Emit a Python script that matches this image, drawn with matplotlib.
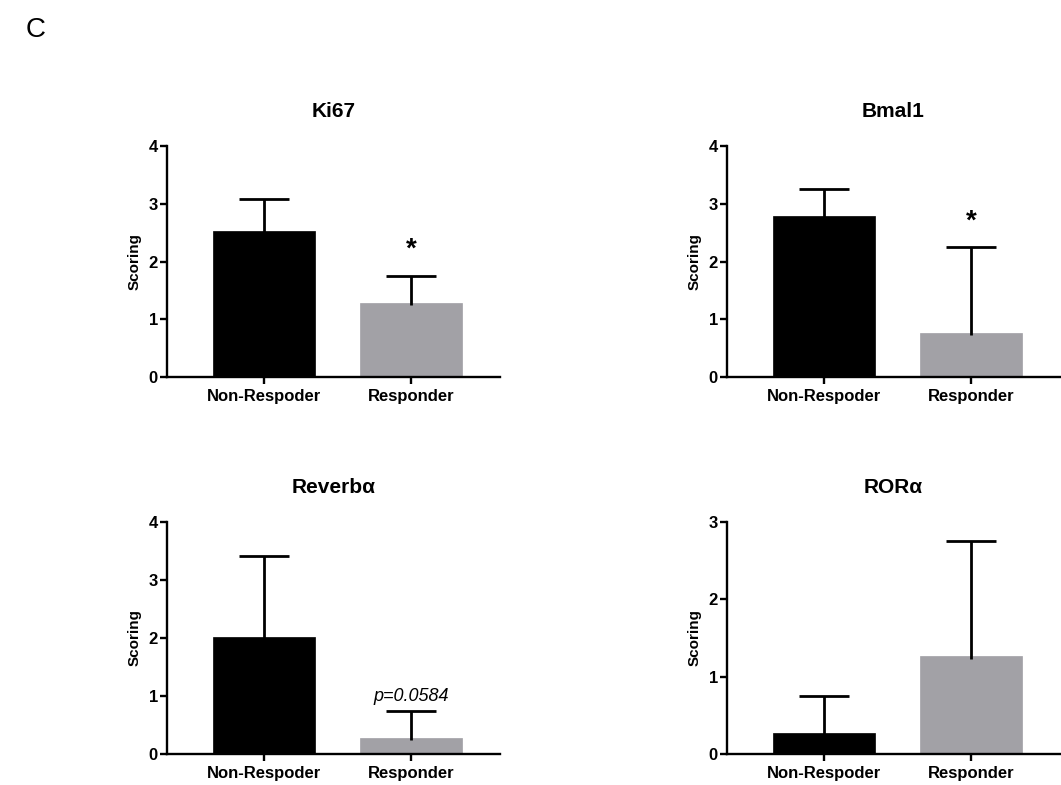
import matplotlib
matplotlib.use("Agg")
import matplotlib.pyplot as plt
import numpy as np

plt.rcParams['font.family'] = ['Liberation Sans', 'DejaVu Sans']

groups = ["Non-Respoder", "Responder"]
colors = ["#000000", "#A2A1A6"]

titles = ["Ki67", "Bmal1", "Reverbα", "RORα"]
means = [[2.53, 1.28], [2.78, 0.77], [2.02, 0.28], [0.27, 1.27]]
errs = [[0.55, 0.47], [0.47, 1.48], [1.39, 0.47], [0.48, 1.48]]
ymax = [4, 4, 4, 3]
annots = ["*", "*", "p=0.0584", ""]
annot_y = [2.2, 2.69, 0.99, None]

W, H = 1061, 785
fig = plt.figure(figsize=(W / 100, H / 100), dpi=100)

# axes boxes in pixels: (left, top, right, bottom)
boxes = [(167, 146, 500, 377), (727, 146, 1060, 377),
         (167, 522, 500, 754), (727, 522, 1060, 754)]

for i, (l, t, r, b) in enumerate(boxes):
    ax = fig.add_axes([l / W, 1 - b / H, (r - l) / W, (b - t) / H])
    x = [0, 1]
    ax.bar(x, means[i], width=0.69, color=colors, edgecolor=colors, linewidth=0.5, zorder=2)
    _, caps, _ = ax.errorbar(x, means[i], yerr=[[0.04, 0.04], errs[i]], fmt='none', ecolor='black',
                             elinewidth=2, capsize=18, capthick=2, zorder=3)
    for c in caps:
        if np.all(np.asarray(c.get_ydata(), float) < np.asarray(means[i])):
            c.set_visible(False)
    ax.set_xlim(-0.655, 1.6)
    ax.set_ylim(0, ymax[i])
    ax.set_yticks(range(0, ymax[i] + 1))
    ax.set_xticks(x)
    ax.set_xticklabels(groups, fontsize=12, fontweight='bold')
    for lab in ax.get_yticklabels():
        lab.set_fontsize(12)
        lab.set_fontweight('bold')
    ax.spines['top'].set_visible(False)
    ax.spines['right'].set_visible(False)
    ax.spines['left'].set_linewidth(1.7)
    ax.spines['bottom'].set_linewidth(1.7)
    ax.spines['left'].set_zorder(4)
    ax.spines['bottom'].set_zorder(4)
    ax.tick_params(axis='both', length=5, width=1.7, pad=1.5)
    ax.tick_params(axis='x', pad=3.5)
    ax.set_ylabel("Scoring", fontsize=11, fontweight='bold', labelpad=5)
    ax.set_title(titles[i], fontsize=15, fontweight='bold', pad=21)
    if annots[i] == "*":
        ax.text(1, annot_y[i], "*", ha='center', va='center', fontsize=20, fontweight='bold')
    elif annots[i]:
        ax.text(1, annot_y[i], annots[i], ha='center', va='center', fontsize=13, style='italic')

fig.text(26 / W, 1 - 30 / H, "C", fontsize=20, ha='left', va='center')

fig.savefig("out.png", dpi=100)
